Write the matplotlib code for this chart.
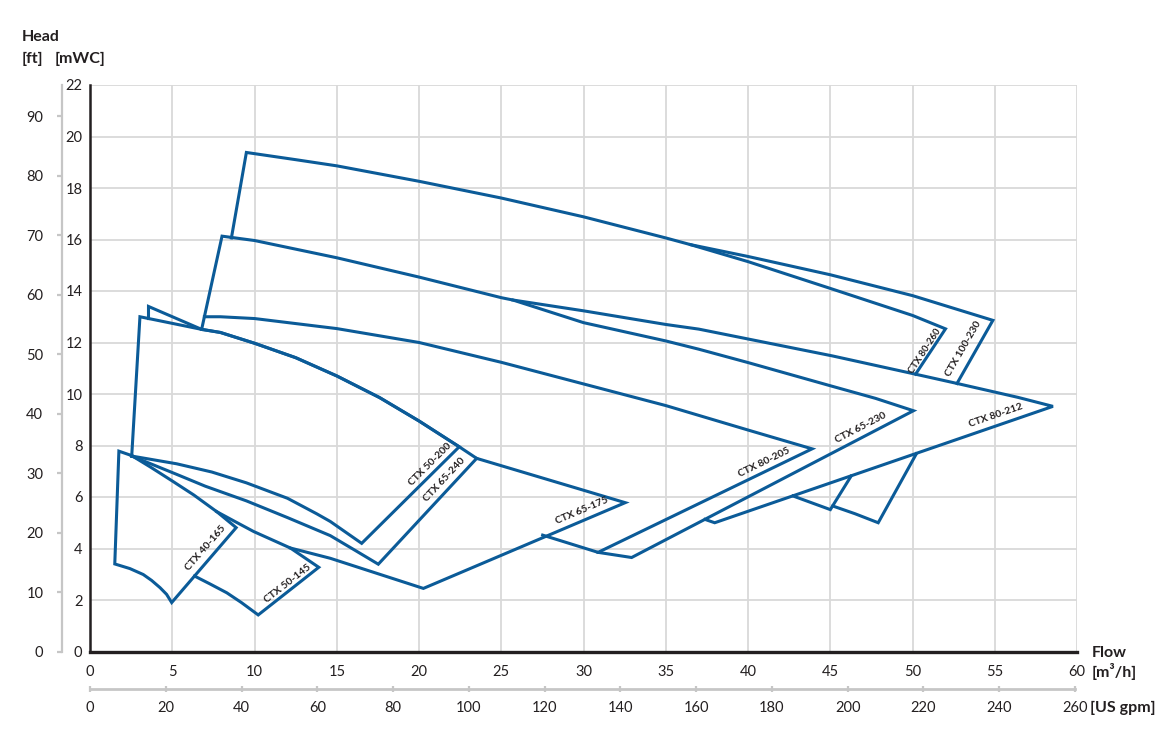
import matplotlib
matplotlib.use("Agg")
import matplotlib.pyplot as plt
import matplotlib.font_manager as fm

# ---------------- data ----------------
flow_ticks = list(range(0, 61, 5))      # m3/h
head_ticks = list(range(0, 23, 2))      # mWC
ft_ticks = list(range(0, 91, 10))       # ft (secondary scale)
gpm_ticks = list(range(0, 261, 20))     # US gpm (secondary scale)
FT_PER_M = 4.33                         # spacing of the ft scale as printed
GPM_MAX = 260

# envelope outlines: flow [m3/h], head [mWC]
ctx_40_165_q = [2.52, 1.75, 1.50, 2.42, 3.23, 3.74, 4.25, 4.65, 4.96, 8.88, 7.70, 6.30, 5.00, 3.70, 2.52]
ctx_40_165_h = [7.61, 7.78, 3.40, 3.22, 2.99, 2.76, 2.48, 2.22, 1.90, 4.81, 5.43, 6.08, 6.62, 7.15, 7.61]

ctx_50_145_q = [7.70, 8.80, 9.94, 12.17, 13.90, 10.22, 9.20, 8.31, 7.30, 6.35]
ctx_50_145_h = [5.43, 5.05, 4.66, 4.02, 3.27, 1.42, 1.90, 2.28, 2.62, 2.93]

ctx_65_175_q = [12.17, 14.60, 20.26, 32.53, 23.50]
ctx_65_175_h = [4.02, 3.62, 2.45, 5.78, 7.50]

ctx_50_200_q = [2.53, 3.03, 6.78, 7.92, 10.0, 12.5, 15.0, 17.6, 20.0, 22.44,
                16.51, 14.60, 13.77, 12.0, 9.50, 7.40, 5.26, 2.53]
ctx_50_200_h = [7.59, 13.0, 12.51, 12.39, 11.97, 11.41, 10.70, 9.86, 8.95, 7.95,
                4.20, 5.05, 5.35, 5.95, 6.55, 6.97, 7.29, 7.59]

ctx_65_240_q = [3.55, 3.55, 6.78, 7.92, 10.0, 12.5, 15.0, 17.6, 20.0, 22.44, 23.50,
                17.52, 16.0, 14.60, 12.0, 9.50, 7.0, 5.26, 2.53]
ctx_65_240_h = [12.93, 13.40, 12.51, 12.39, 11.97, 11.41, 10.70, 9.86, 8.95, 7.95, 7.50,
                3.39, 3.97, 4.50, 5.20, 5.85, 6.42, 6.88, 7.59]

ctx_80_205_q = [6.95, 7.92, 10.0, 15.0, 20.0, 25.0, 30.0, 35.0, 40.0, 43.89, 30.88, 27.51]
ctx_80_205_h = [13.0, 13.0, 12.93, 12.54, 12.0, 11.23, 10.39, 9.55, 8.60, 7.87, 3.85, 4.52]

ctx_80_260_q = [8.59, 9.50, 12.5, 15.0, 20.0, 25.0, 30.0, 35.0, 36.5, 40.0, 45.0, 50.0, 52.0, 50.18]
ctx_80_260_h = [16.06, 19.38, 19.10, 18.86, 18.26, 17.61, 16.88, 16.06, 15.80, 15.14, 14.10, 13.05, 12.53, 10.77]

ctx_100_230_q = [36.5, 40.0, 45.0, 50.0, 54.88, 52.70]
ctx_100_230_h = [15.80, 15.34, 14.63, 13.82, 12.86, 10.41]

ctx_65_230_q = [6.78, 8.02, 10.0, 15.0, 20.0, 25.0, 25.7, 30.0, 35.0, 37.0, 40.0, 45.0,
                47.75, 50.05, 32.92, 30.88]
ctx_65_230_h = [12.51, 16.13, 15.96, 15.29, 14.54, 13.74, 13.65, 12.77, 12.06, 11.74, 11.22, 10.32,
                9.83, 9.35, 3.65, 3.85]

ctx_80_212_q = [25.7, 30.0, 35.0, 37.0, 45.12, 50.17, 52.70, 56.40, 58.53, 37.97, 37.38]
ctx_80_212_h = [13.65, 13.23, 12.70, 12.52, 11.48, 10.77, 10.41, 9.87, 9.52, 5.00, 5.13]

inner_a_q = [42.73, 45.00, 46.26]
inner_a_h = [6.04, 5.51, 6.81]
inner_b_q = [45.15, 46.50, 47.91, 50.23]
inner_b_h = [5.65, 5.35, 5.00, 7.68]

pump_names = ["CTX 40-165", "CTX 50-145", "CTX 50-200", "CTX 65-240", "CTX 65-175",
              "CTX 80-205", "CTX 65-230", "CTX 80-212", "CTX 80-260", "CTX 100-230"]

outlines = [
    (ctx_40_165_q, ctx_40_165_h), (ctx_50_145_q, ctx_50_145_h),
    (ctx_65_175_q, ctx_65_175_h), (ctx_50_200_q, ctx_50_200_h),
    (ctx_65_240_q, ctx_65_240_h), (ctx_80_205_q, ctx_80_205_h),
    (ctx_80_260_q, ctx_80_260_h), (ctx_100_230_q, ctx_100_230_h),
    (ctx_65_230_q, ctx_65_230_h), (ctx_80_212_q, ctx_80_212_h),
    (inner_a_q, inner_a_h), (inner_b_q, inner_b_h),
]

# label placement (layout): flow, head, rotation, size
label_layout = {
    "CTX 40-165": (7.03, 4.01, 49, 7.5),
    "CTX 50-145": (12.0, 2.62, 38, 7.5),
    "CTX 50-200": (20.66, 7.28, 45, 7.5),
    "CTX 65-240": (21.52, 6.66, 47, 7.5),
    "CTX 65-175": (29.93, 5.46, 23, 7.5),
    "CTX 80-205": (40.97, 7.34, 26, 7.5),
    "CTX 65-230": (46.84, 8.70, 27.5, 7.5),
    "CTX 80-212": (55.07, 9.15, 19, 7.5),
    "CTX 80-260": (50.75, 11.67, 57, 6.8),
    "CTX 100-230": (53.12, 11.75, 60, 7.5),
}

# ---------------- style ----------------
avail = {f.name for f in fm.fontManager.ttflist}
FONT = "Lato" if "Lato" in avail else "DejaVu Sans"
plt.rcParams["font.family"] = [FONT, "DejaVu Sans"]

BLUE = "#0b5b98"
TXT = "#231f20"
GRID = "#d9d9d9"
GREY = "#c6c6c6"

W, H, DPI = 1170, 733, 100
fig = plt.figure(figsize=(W / DPI, H / DPI), dpi=DPI)
fig.patch.set_facecolor("white")

def fx(px):
    return px / W

def fy(py):
    return 1 - py / H

X0, X60 = 90.1, 1077.1
Y0, Y22 = 651.5, 85.0

ax = fig.add_axes([fx(X0), fy(Y0), fx(X60) - fx(X0), fy(Y22) - fy(Y0)])
ax.set_xlim(0, 60)
ax.set_ylim(0, 22)
ax.set_xticks(flow_ticks)
ax.set_yticks(head_ticks)
ax.grid(True, color=GRID, lw=1.3)
ax.set_axisbelow(True)
for s in ["top", "right"]:
    ax.spines[s].set_visible(False)
ax.spines["left"].set_color(TXT)
ax.spines["left"].set_linewidth(1.8)
ax.spines["bottom"].set_color(TXT)
ax.spines["bottom"].set_linewidth(2.4)
ax.tick_params(length=0, labelsize=10.5, labelcolor=TXT)
ax.tick_params(axis="x", pad=10)
ax.tick_params(axis="y", pad=5.5)

for q, h in outlines:
    ax.plot(q, h, color=BLUE, lw=2.2, solid_joinstyle="miter", clip_on=False)

for name in pump_names:
    lq, lh, rot, fs = label_layout[name]
    ax.text(lq, lh, name, rotation=rot, rotation_mode="anchor", ha="center", va="center",
            fontsize=fs, fontweight="bold", color=TXT)

# secondary ft scale
axft = fig.add_axes([fx(62), fy(Y0), 0.0005, fy(Y22) - fy(Y0)])
axft.patch.set_visible(False)
axft.set_ylim(0, 22 * FT_PER_M)
axft.set_yticks(ft_ticks)
axft.xaxis.set_visible(False)
for s in ["top", "right", "bottom"]:
    axft.spines[s].set_visible(False)
axft.spines["left"].set_color(GREY)
axft.spines["left"].set_linewidth(1.6)
axft.tick_params(axis="y", length=3.5, width=1.6, color=GREY, labelsize=10.5,
                 labelcolor=TXT, pad=10)

# secondary gpm scale
axg = fig.add_axes([fx(X0), fy(689.3), fx(1075) - fx(X0), 0.0005])
axg.patch.set_visible(False)
axg.set_xlim(0, GPM_MAX)
axg.set_xticks(gpm_ticks)
axg.yaxis.set_visible(False)
for s in ["top", "right", "left"]:
    axg.spines[s].set_visible(False)
axg.spines["bottom"].set_color(GREY)
axg.spines["bottom"].set_linewidth(2.0)
axg.tick_params(axis="x", direction="inout", length=5, width=1.6, color=GREY,
                labelsize=10.5, labelcolor=TXT, pad=6)

# axis titles
kw = dict(fontweight="bold", color=TXT, fontsize=11.5, va="center", ha="left")
fig.text(fx(22), fy(37), "Head", **kw)
fig.text(fx(22), fy(59), "[ft]", **kw)
fig.text(fx(55), fy(59), "[mWC]", **kw)
fig.text(fx(1092), fy(653), "Flow", **kw)
fig.text(fx(1092), fy(672), "[m³/h]", **kw)
fig.text(fx(1090), fy(708), "[US gpm]", **kw)

fig.savefig("out.png", dpi=DPI, facecolor="white")
